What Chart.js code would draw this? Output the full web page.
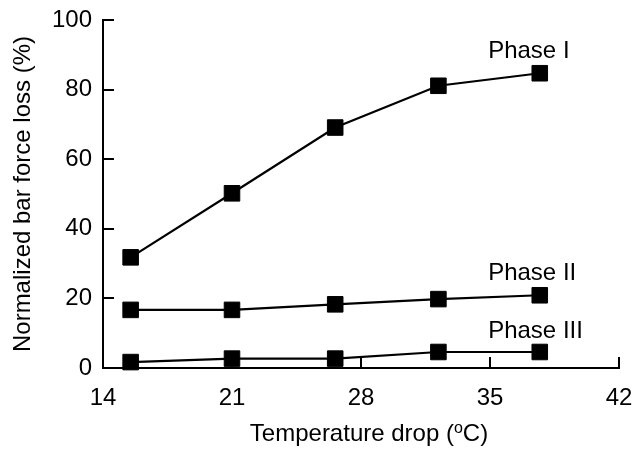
<!DOCTYPE html>
<html>
<head>
<meta charset="utf-8">
<script src="https://cdn.jsdelivr.net/npm/chart.js@4/dist/chart.umd.min.js"></script>
<style>
  body { margin: 0; background: #fff; }
</style>
</head>
<body>
<canvas id="grafico" width="635" height="450"></canvas>
<script>
// datos
const caidaTemp = [15.5, 21, 26.6, 32.2, 37.7];
const faseI = [31.8, 50.2, 69.1, 81.1, 84.7];
const faseII = [16.7, 16.7, 18.3, 19.8, 20.9];
const faseIII = [1.7, 2.7, 2.7, 4.6, 4.6];
const ticksX = [14, 21, 28, 35, 42];
const ticksY = [0, 20, 40, 60, 80, 100];

const fuente = "'Liberation Sans', Arial, sans-serif";

function puntos(valores) {
  return valores.map((v, i) => ({ x: caidaTemp[i], y: v }));
}

function serie(nombre, valores) {
  return {
    label: nombre,
    data: puntos(valores),
    borderColor: '#000',
    backgroundColor: '#000',
    borderWidth: 2.2,
    pointStyle: 'rect',
    pointRadius: 11,
    pointBorderWidth: 1,
    tension: 0,
    clip: false
  };
}

// marcas de los ejes hacia adentro + etiquetas de cada fase + titulo del eje x con superindice
const extras = {
  id: 'extras',
  beforeDatasetsDraw(chart) {
    const ctx = chart.ctx;
    const x = chart.scales.x, y = chart.scales.y;
    ctx.save();
    ctx.strokeStyle = '#000';
    ctx.lineWidth = 2;
    ctx.beginPath();
    ticksX.forEach(t => {
      const px = Math.round(x.getPixelForValue(t));
      ctx.moveTo(px, y.bottom);
      ctx.lineTo(px, y.bottom - 11);
    });
    ticksY.forEach(t => {
      const py = Math.round(y.getPixelForValue(t));
      ctx.moveTo(x.left, py);
      ctx.lineTo(x.left + 11, py);
    });
    ctx.stroke();
    ctx.restore();
  },
  afterDraw(chart) {
    const ctx = chart.ctx;
    const x = chart.scales.x, y = chart.scales.y;
    ctx.save();
    ctx.fillStyle = '#000';
    ctx.font = '24px ' + fuente;
    ctx.textAlign = 'left';
    ctx.textBaseline = 'middle';
    const etiquetas = [['Phase I', 90.9], ['Phase II', 27.3], ['Phase III', 10.6]];
    etiquetas.forEach(([txt, v]) => {
      ctx.fillText(txt, x.getPixelForValue(34.9), y.getPixelForValue(v));
    });

    // titulo eje x
    const a = 'Temperature drop (', sup = 'o', b = 'C)';
    ctx.textBaseline = 'alphabetic';
    ctx.font = '24px ' + fuente;
    const wa = ctx.measureText(a).width, wb = ctx.measureText(b).width;
    ctx.font = '16px ' + fuente;
    const ws = ctx.measureText(sup).width;
    const total = wa + ws + wb;
    let cx = 369 - total / 2;
    const base = 441;
    ctx.font = '24px ' + fuente;
    ctx.fillText(a, cx, base);
    cx += wa;
    ctx.font = '16px ' + fuente;
    ctx.fillText(sup, cx, base - 8);
    cx += ws;
    ctx.font = '24px ' + fuente;
    ctx.fillText(b, cx, base);
    ctx.restore();
  }
};

new Chart(document.getElementById('grafico').getContext('2d'), {
  type: 'line',
  data: {
    datasets: [
      serie('Phase I', faseI),
      serie('Phase II', faseII),
      serie('Phase III', faseIII)
    ]
  },
  options: {
    responsive: false,
    animation: false,
    layout: { padding: { top: 20, right: 16, left: 0, bottom: 0 } },
    plugins: {
      legend: { display: false },
      tooltip: { enabled: false }
    },
    scales: {
      x: {
        type: 'linear',
        min: 14,
        max: 42,
        afterFit: s => { s.height = 82; s.paddingLeft = 0; s.paddingRight = 0; },
        afterBuildTicks: s => { s.ticks = ticksX.map(v => ({ value: v })); },
        grid: { display: false, drawTicks: false },
        border: { display: true, color: '#000', width: 2 },
        ticks: {
          color: '#000',
          padding: 16,
          maxRotation: 0,
          font: { family: fuente, size: 24 }
        }
      },
      y: {
        type: 'linear',
        min: 0,
        max: 100,
        afterFit: s => { s.width = 103; s.paddingTop = 0; s.paddingBottom = 0; },
        afterBuildTicks: s => { s.ticks = ticksY.map(v => ({ value: v })); },
        grid: { display: false, drawTicks: false },
        border: { display: true, color: '#000', width: 2 },
        ticks: {
          color: '#000',
          padding: 11,
          font: { family: fuente, size: 24 }
        },
        title: {
          display: true,
          text: 'Normalized bar force loss (%)',
          color: '#000',
          padding: { top: 9, bottom: 0 },
          font: { family: fuente, size: 24 }
        }
      }
    }
  },
  plugins: [extras]
});
</script>
</body>
</html>
